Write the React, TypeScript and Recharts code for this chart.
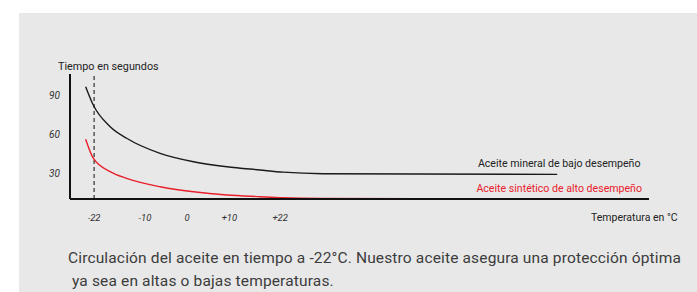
import { LineChart, Line, XAxis, YAxis, ReferenceLine, LabelList } from 'recharts';

const temps = [-24, -22.2, -18.2, -14.3, -6.4, 1.5, 9.4, 17.2, 22.7, 32.1, 87.5];
const mineral = [97.2, 83.0, 66.2, 57.2, 45.5, 39.0, 35.1, 32.6, 30.9, 29.7, 29.2];
const sintetico = [56.4, 41.7, 31.3, 26.1, 19.6, 15.7, 13.2, 11.9, 11.1, 10.6, 10.3];
const xTicks = [-22, -10, 0, 10, 22];
const yTicks = [30, 60, 90];
const mineralLabel = 'Aceite mineral de bajo desempeño';
const sinteticoLabel = 'Aceite sintético de alto desempeño';

const rows = temps.map((t, i) => ({ t, mineral: mineral[i], sintetico: sintetico[i] }));

const FONT = 'Roboto, "Liberation Sans", sans-serif';
const RED = '#e8202b';

function endLabel(text: string, color: string) {
  return (p: any) =>
    p.index === temps.length - 1 ? (
      <text x={p.x + 2} y={p.y - 7} textAnchor="middle" fontSize={10.6} fontFamily={FONT} fill={color}>
        {text}
      </text>
    ) : null;
}

export default function App() {
  return (
    <div style={{ position: 'absolute', left: 0, top: 0, width: 697, height: 292, background: '#fff', fontFamily: FONT }}>
      <div style={{ position: 'absolute', left: 19, top: 13, width: 678, height: 279, background: '#e8e8e8' }} />
      <div style={{ position: 'absolute', left: 0, top: 0 }}>
        <LineChart width={697} height={292} data={rows} margin={{ top: 74, right: 48, bottom: 63, left: 0 }}>
          <XAxis
            dataKey="t"
            type="number"
            domain={[-27.7, 109.2]}
            allowDataOverflow
            ticks={xTicks}
            tickFormatter={(v: number) => (v > 0 ? `+${v}` : `${v}`)}
            tickSize={0}
            tickMargin={15}
            height={30}
            axisLine={{ stroke: '#111', strokeWidth: 2 }}
            tick={{ fontSize: 9.5, fontStyle: 'italic', fill: '#333', fontFamily: FONT }}
          />
          <YAxis
            type="number"
            domain={[10.1, 107]}
            allowDataOverflow
            ticks={yTicks}
            tickSize={0}
            tickMargin={10}
            width={70}
            axisLine={{ stroke: '#111', strokeWidth: 2 }}
            tick={{ fontSize: 10, fontStyle: 'italic', fill: '#333', fontFamily: FONT }}
          />
          <ReferenceLine x={-22} stroke="#333" strokeWidth={1.2} strokeDasharray="4 3" />
          <Line type="monotone" dataKey="mineral" stroke="#1a1a1a" strokeWidth={1.4} dot={false} isAnimationActive={false}>
            <LabelList dataKey="mineral" content={endLabel(mineralLabel, '#222')} />
          </Line>
          <Line type="monotone" dataKey="sintetico" stroke={RED} strokeWidth={1.4} dot={false} isAnimationActive={false}>
            <LabelList dataKey="sintetico" content={endLabel(sinteticoLabel, RED)} />
          </Line>
        </LineChart>
      </div>
      <div style={{ position: 'absolute', left: 58, top: 60, fontSize: 10.8, color: '#222', whiteSpace: 'nowrap' }}>
        Tiempo en segundos
      </div>
      <div style={{ position: 'absolute', left: 591, top: 211, fontSize: 10.5, color: '#222', whiteSpace: 'nowrap' }}>
        Temperatura en °C
      </div>
      <div style={{ position: 'absolute', left: 68, top: 247, fontSize: 15.5, letterSpacing: 0.15, lineHeight: '23px', color: '#3c3c3c', whiteSpace: 'pre' }}>
        {'Circulación del aceite en tiempo a -22°C. Nuestro aceite asegura una protección óptima\n ya sea en altas o bajas temperaturas.'}
      </div>
    </div>
  );
}
